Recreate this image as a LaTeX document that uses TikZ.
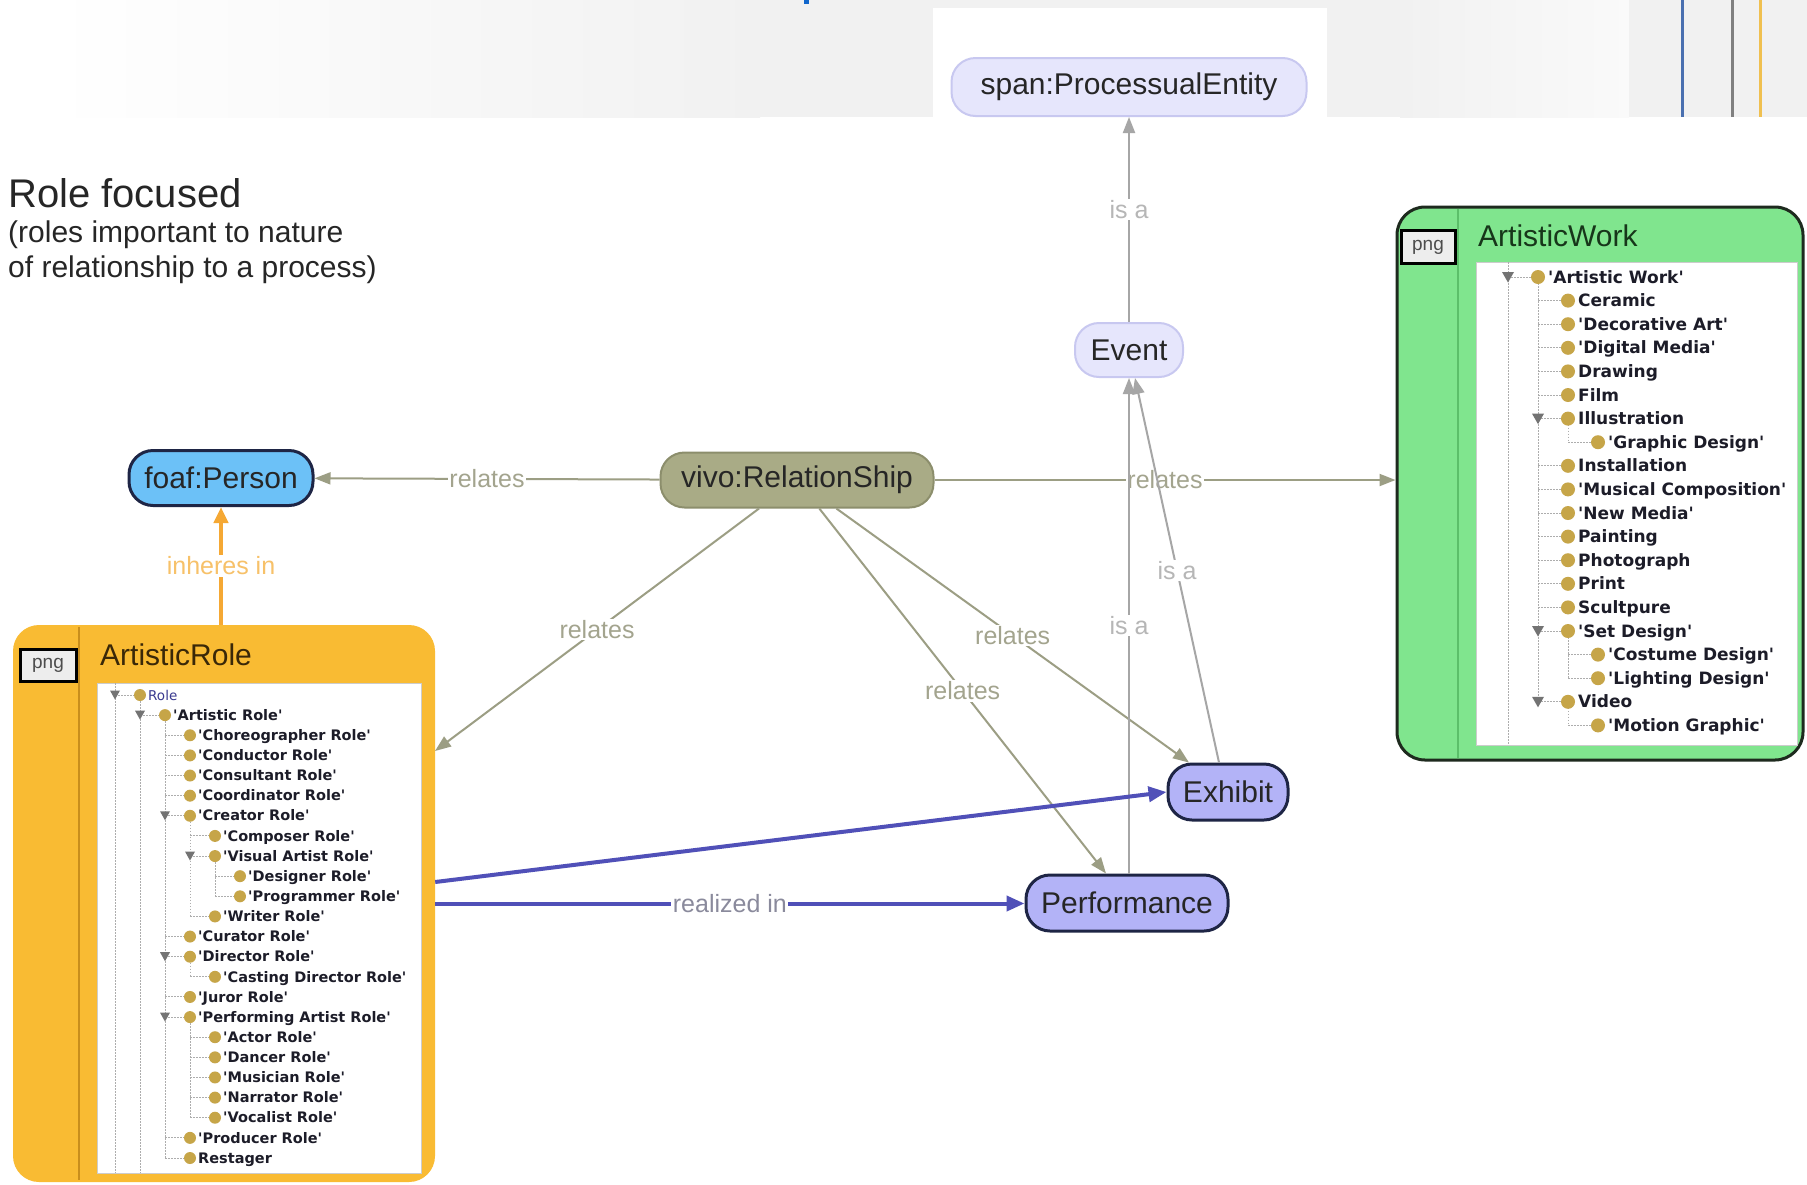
\documentclass[tikz,border=0pt]{standalone}
\usepackage{fontspec}
\setmainfont{Liberation Sans}
\newfontfamily\treefont{DejaVu Sans}
\usetikzlibrary{arrows.meta}

\definecolor{bandgray}{HTML}{F1F1F1}
\definecolor{lightfill}{HTML}{E6E6FC}
\definecolor{lightdraw}{HTML}{C8C8F0}
\definecolor{personfill}{HTML}{6CC1F7}
\definecolor{darknavy}{HTML}{1E2545}
\definecolor{relfill}{HTML}{A9AB86}
\definecolor{reldraw}{HTML}{8C8E6C}
\definecolor{procfill}{HTML}{B3B3F7}
\definecolor{relline}{HTML}{9C9E84}
\definecolor{reltext}{HTML}{A3A48E}
\definecolor{isaline}{HTML}{A6A6A6}
\definecolor{isatext}{HTML}{B6B6B6}
\definecolor{inhline}{HTML}{F5A834}
\definecolor{inhtext}{HTML}{F7C169}
\definecolor{realline}{HTML}{5050B8}
\definecolor{realtext}{HTML}{8A8A9C}
\definecolor{workfill}{HTML}{80E58E}
\definecolor{workdraw}{HTML}{1E2A1E}
\definecolor{worksep}{HTML}{5CBF6A}
\definecolor{worktitle}{HTML}{17361A}
\definecolor{rolefill}{HTML}{F9BB33}
\definecolor{rolesep}{HTML}{C98E1C}
\definecolor{roletitle}{HTML}{3A2808}
\definecolor{treedotc}{HTML}{C6A548}
\definecolor{treetext}{HTML}{1C1C28}
\definecolor{rootblue}{HTML}{3A3A90}
\definecolor{slideblue}{HTML}{4A70B0}
\definecolor{slideyellow}{HTML}{F0C050}
\definecolor{titleblue}{HTML}{1066CC}

\begin{document}
\begin{tikzpicture}[x=1pt,y=-1pt,
  box/.style={rectangle, rounded corners=24pt, inner sep=0pt, font=\fontsize{30}{36}\selectfont, text=black!85},
  lightbox/.style={box, draw=lightdraw, fill=lightfill, line width=2pt},
  personbox/.style={box, draw=darknavy, fill=personfill, line width=3pt},
  relbox/.style={box, draw=reldraw, fill=relfill, line width=2pt},
  procbox/.style={box, draw=darknavy, fill=procfill, line width=3pt},
  relates/.style={draw=relline, line width=2pt, -{Triangle[length=16pt,width=12pt]}},
  isa/.style={draw=isaline, line width=2pt, -{Triangle[length=16pt,width=12pt]}},
  inheres/.style={draw=inhline, line width=4pt, -{Triangle[length=16pt,width=14pt]}},
  realized/.style={draw=realline, line width=4pt, -{Triangle[length=18pt,width=15pt]}},
  edgelabel/.style={fill=white, inner sep=1.5pt, font=\fontsize{25}{30}\selectfont},
  rlabel/.style={edgelabel, text=reltext},
  ilabel/.style={edgelabel, text=isatext},
  olabel/.style={edgelabel, text=inhtext},
  blabel/.style={edgelabel, text=realtext},
  treeline/.style={draw=black!32, line width=1pt, dash pattern=on 1.5pt off 1.5pt},
  treetri/.style={fill=black!55},
  treedot/.style={fill=treedotc},
  roleitem/.style={anchor=base west, inner sep=0pt, font=\treefont\bfseries\fontsize{14.5}{16}\selectfont, text=treetext},
  workitem/.style={anchor=base west, inner sep=0pt, font=\treefont\bfseries\fontsize{17}{19}\selectfont, text=treetext},
  pngtag/.style={draw=black, line width=3pt, fill=black!7, inner sep=0pt, font=\fontsize{19}{20}\selectfont, text=black!70},
  paneltitle/.style={anchor=base west, inner sep=0pt, font=\fontsize{30}{36}\selectfont},
]
\useasboundingbox (0,0) rectangle (1807,1184);

% page background and the header strip
\fill[white] (0,0) rectangle (1807,1184);
\shade[left color=white, right color=bandgray] (50,0) rectangle (760,117);
\fill[bandgray] (760,0) rectangle (1400,117);
\shade[left color=bandgray, right color=black!2] (1400,0) rectangle (1629,117);
\fill[bandgray] (1629,0) rectangle (1807,117);
\fill[white] (933,8) rectangle (1327,117);
\fill[titleblue] (804,0) rectangle (809,4);
\draw[slideblue, line width=3pt] (1682,0) -- (1682,117);
\draw[black!50, line width=3pt] (1732,0) -- (1732,117);
\draw[slideyellow, line width=3pt] (1760,0) -- (1760,117);

% heading
\node[anchor=base west, inner sep=0pt, font=\fontsize{40}{48}\selectfont, text=black!85] (heading) at (8,207) {Role focused};
\node[anchor=base west, inner sep=0pt, font=\fontsize{30}{36}\selectfont, text=black!85] (subline1) at (8,242) {(roles important to nature};
\node[anchor=base west, inner sep=0pt, font=\fontsize{30}{36}\selectfont, text=black!85] (subline2) at (8,277) {of relationship to a process)};

% class nodes
\node[lightbox, minimum width=355pt, minimum height=58pt] (span) at (1129,87) {span:ProcessualEntity};
\node[lightbox, minimum width=108pt, minimum height=54pt] (event) at (1129,350) {Event};
\node[personbox, minimum width=184pt, minimum height=55pt] (person) at (221,478) {foaf:Person};
\node[relbox, minimum width=273pt, minimum height=55pt] (rel) at (797,480) {vivo:RelationShip};
\node[procbox, minimum width=120pt, minimum height=56pt] (exhibit) at (1228,792) {Exhibit};
\node[procbox, minimum width=202pt, minimum height=56pt] (perf) at (1127,903) {Performance};

% ArtisticWork panel
\node[draw=workdraw, fill=workfill, line width=3pt, rounded corners=28pt, minimum width=406pt, minimum height=553pt, inner sep=0pt] (work) at (1600,483.5) {};
\draw[worksep, line width=2pt] (1458,209) -- (1458,758);
\node[pngtag, minimum width=54pt, minimum height=33pt] (workpng) at (1428,247) {png};
\node[paneltitle, text=worktitle] (worktitle) at (1478,246) {ArtisticWork};
\fill[white, draw=black!20, line width=0.8pt] (1476,262) rectangle (1797,745);

% tree guide lines (ArtisticWork)
\draw[treeline] (1508,262) -- (1508,745);
\draw[treeline] (1538,277) -- (1538,701.8);
\draw[treeline] (1568,418.6) -- (1568,442.2);
\draw[treeline] (1568,631) -- (1568,678.2);
\draw[treeline] (1568,701.8) -- (1568,725.4);
\foreach \ro/\lv/\tg/\tx in {
  0/0/1/'Artistic Work',
  1/1/0/Ceramic,
  2/1/0/'Decorative Art',
  3/1/0/'Digital Media',
  4/1/0/Drawing,
  5/1/0/Film,
  6/1/1/Illustration,
  7/2/0/'Graphic Design',
  8/1/0/Installation,
  9/1/0/'Musical Composition',
  10/1/0/'New Media',
  11/1/0/Painting,
  12/1/0/Photograph,
  13/1/0/Print,
  14/1/0/Scultpure,
  15/1/1/'Set Design',
  16/2/0/'Costume Design',
  17/2/0/'Lighting Design',
  18/1/1/Video,
  19/2/0/'Motion Graphic'} {
  \pgfmathsetmacro\yy{277+\ro*23.6}
  \pgfmathsetmacro\dx{1538+\lv*30}
  \pgfmathsetmacro\px{\dx-30}
  \draw[treeline] (\px,\yy) -- (\dx,\yy);
  \ifnum\tg=1 \fill[treetri] (\px-6,\yy-5) -- (\px+6,\yy-5) -- (\px,\yy+5.5) -- cycle; \fi
  \fill[treedot] (\dx,\yy) circle (7pt);
  \node[workitem] (work-item-\ro) at (\dx+10,\yy+6) {\tx};
}

% ArtisticRole panel
\node[fill=rolefill, rounded corners=26pt, minimum width=422pt, minimum height=557pt, inner sep=0pt] (role) at (224,903.5) {};
\draw[rolesep, line width=2pt] (79,627) -- (79,1180);
\node[pngtag, minimum width=56pt, minimum height=32pt] (rolepng) at (48,665) {png};
\node[paneltitle, text=roletitle] (roletitle) at (100,665) {ArtisticRole};
\fill[white, draw=black!20, line width=0.8pt] (97,683) rectangle (421,1173);

% tree guide lines (ArtisticRole)
\draw[treeline] (115,683) -- (115,1173);
\draw[treeline] (140,695) -- (140,1173);
\draw[treeline] (165,715.1) -- (165,1158);
\draw[treeline] (190,815.8) -- (190,916.4);
\draw[treeline] (190,956.7) -- (190,976.8);
\draw[treeline] (190,1017.1) -- (190,1117.7);
\draw[treeline] (215,856) -- (215,896.3);
\draw[treeline] (115,695) -- (140,695);
\fill[treetri] (110,690.5) -- (120,690.5) -- (115,699.5) -- cycle;
\fill[treedot] (140,695) circle (6pt);
\node[anchor=base west, inner sep=0pt, font=\treefont\fontsize{13.5}{15}\selectfont, text=rootblue] (role-item-0) at (148,700) {Role};
\foreach \ro/\lv/\tg/\tx in {
  1/1/1/'Artistic Role',
  2/2/0/'Choreographer Role',
  3/2/0/'Conductor Role',
  4/2/0/'Consultant Role',
  5/2/0/'Coordinator Role',
  6/2/1/'Creator Role',
  7/3/0/'Composer Role',
  8/3/1/'Visual Artist Role',
  9/4/0/'Designer Role',
  10/4/0/'Programmer Role',
  11/3/0/'Writer Role',
  12/2/0/'Curator Role',
  13/2/1/'Director Role',
  14/3/0/'Casting Director Role',
  15/2/0/'Juror Role',
  16/2/1/'Performing Artist Role',
  17/3/0/'Actor Role',
  18/3/0/'Dancer Role',
  19/3/0/'Musician Role',
  20/3/0/'Narrator Role',
  21/3/0/'Vocalist Role',
  22/2/0/'Producer Role',
  23/2/0/Restager} {
  \pgfmathsetmacro\yy{695+\ro*20.13}
  \pgfmathsetmacro\dx{140+\lv*25}
  \pgfmathsetmacro\px{\dx-25}
  \draw[treeline] (\px,\yy) -- (\dx,\yy);
  \ifnum\tg=1 \fill[treetri] (\px-5,\yy-4.5) -- (\px+5,\yy-4.5) -- (\px,\yy+4.5) -- cycle; \fi
  \fill[treedot] (\dx,\yy) circle (6pt);
  \node[roleitem] (role-item-\ro) at (\dx+8,\yy+5.2) {\tx};
}

% port points on the ArtisticRole panel
\coordinate (roleport) at (435,751);

% relates connectors
\draw[relates] (rel) -- node[rlabel] {relates} (person);
\draw[relates] (rel.east) -- node[rlabel] {relates} (rel.east -| work.west);
\draw[relates] (rel) -- node[rlabel] {relates} (roleport);
\draw[relates] (rel) -- node[rlabel] {relates} ([xshift=-21pt]perf.north);
\draw[relates] (rel) -- node[rlabel] {relates} ([xshift=-39pt]exhibit.north);

% subclass connectors
\draw[isa] (event) -- node[pos=0.55, ilabel] {is a} (span);
\draw[isa] (perf.north -| event.south) -- node[ilabel] {is a} (event.south);
\draw[isa] ([xshift=-9pt]exhibit.north) -- node[ilabel] {is a} ([xshift=6pt]event.south);

% role connectors
\draw[inheres] (role.north -| person.south) -- node[olabel] {inheres in} (person.south);
\draw[realized] ([yshift=21.5pt]role.east) -- (exhibit.west);
\draw[realized] (role.east) -- node[blabel] {realized in} (role.east -| perf.west);
\end{tikzpicture}
\end{document}
